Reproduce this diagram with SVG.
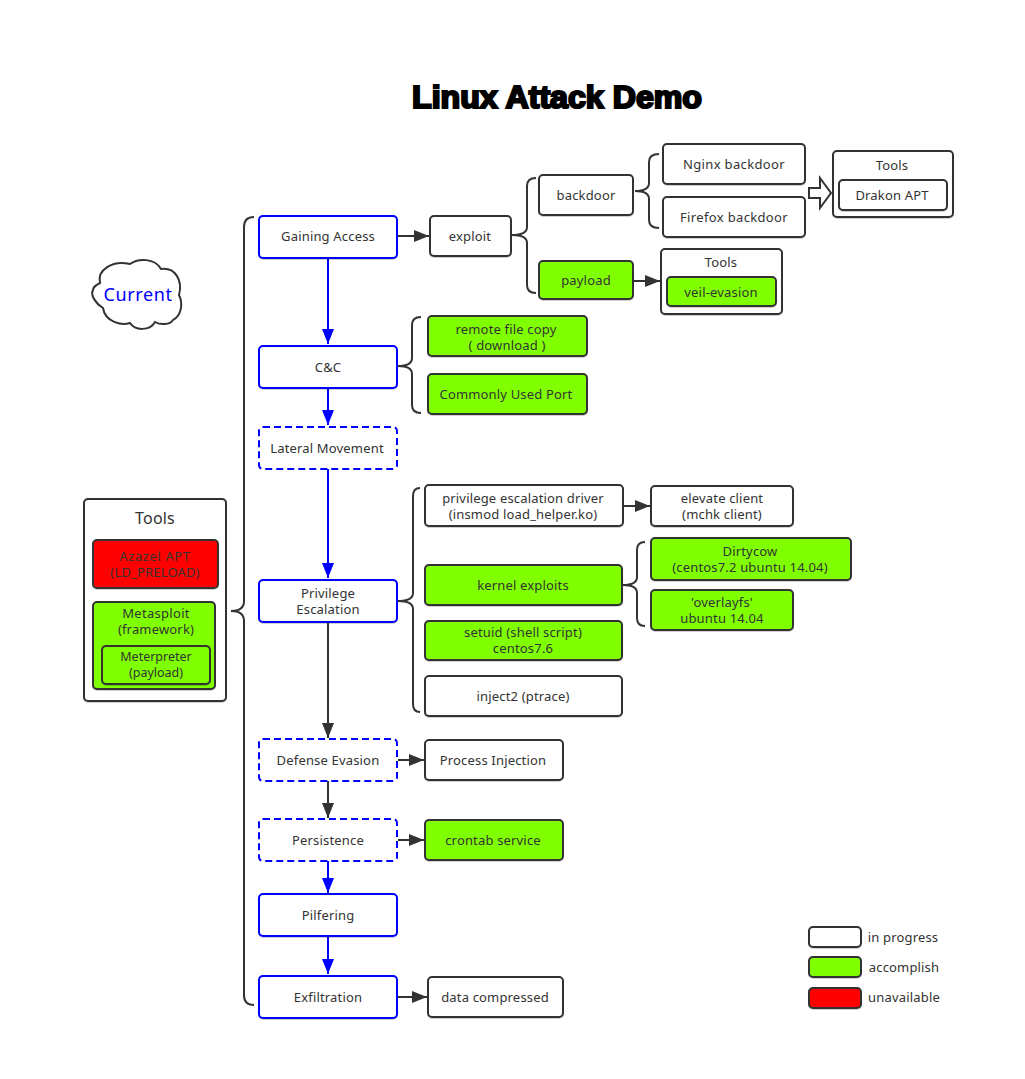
<svg xmlns="http://www.w3.org/2000/svg" width="1025" height="1079" viewBox="0 0 1025 1079">
<style>
text{font-family:"Noto Sans","Open Sans","Liberation Sans",sans-serif;font-size:13px;fill:#333;text-anchor:middle;letter-spacing:.17px}
.b{fill:#fff;stroke:#333;stroke-width:2;filter:url(#sh)}
.g{fill:#80ff00;stroke:#333;stroke-width:2;filter:url(#sh)}
.r{fill:#f00;stroke:#333;stroke-width:2;filter:url(#sh)}
.s{fill:#fff;stroke:#00f;stroke-width:2;filter:url(#sh)}
.d{fill:#fff;stroke:#00f;stroke-width:2;stroke-dasharray:7 4}
.lk{fill:none;stroke:#333;stroke-width:2}
.lb{fill:none;stroke:#00f;stroke-width:2}
.ak{marker-end:url(#ak)}
.ab{marker-end:url(#ab)}
</style>
<defs>
<filter id="sh" x="-5%" y="-10%" width="110%" height="125%"><feDropShadow dx="0" dy="1" stdDeviation=".6" flood-color="#000" flood-opacity=".18"/></filter>
<marker id="ak" markerUnits="userSpaceOnUse" markerWidth="16" markerHeight="12" refX="15" refY="6" orient="auto"><path d="M0 0L15 6L0 12Z" fill="#333"/></marker>
<marker id="ab" markerUnits="userSpaceOnUse" markerWidth="16" markerHeight="12" refX="15" refY="6" orient="auto"><path d="M0 0L15 6L0 12Z" fill="#00f"/></marker>
</defs>
<rect width="1025" height="1079" fill="#fff"/>
<text id="title" x="557" y="108" style="font-family:'Liberation Sans',sans-serif;font-size:31px;font-weight:bold;fill:#000;stroke:#000;stroke-width:2.2;letter-spacing:0" textLength="290" lengthAdjust="spacingAndGlyphs">Linux Attack Demo</text>

<g id="connectors">
<path class="lk" d="M254 217Q244 217 244 227L244 601Q244 611 231 611Q244 611 244 621L244 995Q244 1005 254 1005"/>
<path class="lk" d="M536 178Q527 178 527 186L527 227Q527 235 512 235Q527 235 527 243L527 285Q527 293 536 293"/>
<path class="lk" d="M659 154Q649 154 649 162L649 183Q649 191 635 191Q649 191 649 199L649 220Q649 228 659 228"/>
<path class="lk" d="M421 317Q412 317 412 325L412 358Q412 366 398 366Q412 366 412 374L412 405Q412 413 421 413"/>
<path class="lk" d="M420 488Q413 488 413 496L413 593Q413 601 398 601Q413 601 413 609L413 704Q413 712 420 712"/>
<path class="lk" d="M645 542Q637 542 637 550L637 577Q637 585 623 585Q637 585 637 593L637 618Q637 626 645 626"/>
<path class="lb ab" d="M328 258V344"/>
<path class="lb ab" d="M328 388V425"/>
<path class="lb ab" d="M328 469V578"/>
<path class="lk ak" d="M328 622V738"/>
<path class="lk ak" d="M328 781V818"/>
<path class="lb ab" d="M328 861V893"/>
<path class="lb ab" d="M328 936V974"/>
<path class="lk ak" d="M398 236H429"/>
<path class="lk ak" d="M634 281H660"/>
<path class="lk ak" d="M623 506H650"/>
<path class="lk ak" d="M398 760H424"/>
<path class="lk ak" d="M398 840H424"/>
<path class="lk ak" d="M398 997H427"/>
<path d="M809 188H820V178L831 193L820 208V198H809Z" fill="#fff" stroke="#333" stroke-width="2"/>
</g>

<g id="current"><path d="M100 283C97 270 112 260 130 264C138 258 155 258 161 269C175 267 183 280 179 295C183 303 182 315 173 320C170 325 160 325 155 322C150 331 135 331 130 323C122 326 105 322 103 308C96 304 90 295 93 290C93 287 96 285 100 283Z" fill="#fff" stroke="#333" stroke-width="2"/><text x="138" y="301" style="font-size:18px;fill:#00f;letter-spacing:.6px">Current</text></g>

<g id="tools-left"><rect class="b" x="84" y="499" width="142" height="202" rx="4"/><text x="155" y="524" style="font-size:16px">Tools</text></g>
<g id="azazel"><rect class="r" x="93" y="540" width="125" height="48" rx="4"/><text x="155" y="561" style="letter-spacing:.6px">Azazel APT</text><text x="155" y="577">(LD_PRELOAD)</text></g>
<g id="metasploit"><rect class="g" x="93" y="602" width="122" height="87" rx="4"/><text x="156" y="618" style="letter-spacing:.3px">Metasploit</text><text x="156" y="634">(framework)</text></g>
<g id="meterpreter"><rect class="g" x="102" y="646" width="108" height="38" rx="4"/><text x="156" y="661" style="font-size:12.5px;letter-spacing:0">Meterpreter</text><text x="156" y="677" style="font-size:12.5px;letter-spacing:0">(payload)</text></g>

<g id="gaining"><rect class="s" x="259" y="216" width="138" height="42" rx="4"/><text x="328" y="241">Gaining Access</text></g>
<g id="cc"><rect class="s" x="259" y="346" width="138" height="42" rx="4"/><text x="328" y="372">C&amp;C</text></g>
<g id="lateral"><rect class="d" x="259" y="427" width="138" height="42" rx="4"/><text x="327" y="453">Lateral Movement</text></g>
<g id="privesc"><rect class="s" x="259" y="580" width="138" height="42" rx="4"/><text x="328" y="598">Privilege</text><text x="328" y="614">Escalation</text></g>
<g id="defense"><rect class="d" x="259" y="739" width="138" height="42" rx="4"/><text x="328" y="765">Defense Evasion</text></g>
<g id="persistence"><rect class="d" x="259" y="819" width="138" height="42" rx="4"/><text x="328" y="845">Persistence</text></g>
<g id="pilfering"><rect class="s" x="259" y="894" width="138" height="42" rx="4"/><text x="328" y="920">Pilfering</text></g>
<g id="exfil"><rect class="s" x="259" y="976" width="138" height="42" rx="4"/><text x="328" y="1002">Exfiltration</text></g>

<g id="exploit"><rect class="b" x="430" y="216" width="81" height="40" rx="4"/><text x="470" y="241">exploit</text></g>
<g id="backdoor"><rect class="b" x="539" y="175" width="94" height="40" rx="4"/><text x="586" y="200">backdoor</text></g>
<g id="payload"><rect class="g" x="539" y="261" width="94" height="38" rx="4"/><text x="586" y="285">payload</text></g>
<g id="nginx"><rect class="b" x="663" y="144" width="142" height="40" rx="4"/><text x="734" y="169" style="letter-spacing:.35px">Nginx backdoor</text></g>
<g id="firefox"><rect class="b" x="663" y="197" width="142" height="40" rx="4"/><text x="734" y="222" style="letter-spacing:.35px">Firefox backdoor</text></g>
<g id="tools-top"><rect class="b" x="833" y="151" width="120" height="66" rx="4"/><text x="892" y="170">Tools</text></g>
<g id="drakon"><rect class="b" x="839" y="180" width="108" height="30" rx="4"/><text x="892" y="200">Drakon APT</text></g>
<g id="tools-payload"><rect class="b" x="661" y="249" width="121" height="65" rx="4"/><text x="721" y="267">Tools</text></g>
<g id="veil"><rect class="g" x="667" y="277" width="109" height="29" rx="4"/><text x="721" y="297">veil-evasion</text></g>

<g id="remote"><rect class="g" x="428" y="316" width="159" height="40" rx="4"/><text x="506" y="334">remote file copy</text><text x="507" y="350">( download )</text></g>
<g id="port"><rect class="g" x="428" y="374" width="159" height="40" rx="4"/><text x="506" y="399">Commonly Used Port</text></g>

<g id="driver"><rect class="b" x="425" y="485" width="198" height="41" rx="4"/><text x="523" y="503">privilege escalation driver</text><text x="523" y="519">(insmod load_helper.ko)</text></g>
<g id="elevate"><rect class="b" x="651" y="486" width="142" height="40" rx="4"/><text x="722" y="503">elevate client</text><text x="722" y="519">(mchk client)</text></g>
<g id="kernel"><rect class="g" x="425" y="565" width="197" height="40" rx="4"/><text x="523" y="590">kernel exploits</text></g>
<g id="dirtycow"><rect class="g" x="651" y="538" width="200" height="42" rx="4"/><text x="750" y="556">Dirtycow</text><text x="750" y="572">(centos7.2 ubuntu 14.04)</text></g>
<g id="overlayfs"><rect class="g" x="651" y="590" width="142" height="40" rx="4"/><text x="722" y="607">'overlayfs'</text><text x="722" y="623">ubuntu 14.04</text></g>
<g id="setuid"><rect class="g" x="425" y="621" width="197" height="39" rx="4"/><text x="523" y="637">setuid (shell script)</text><text x="523" y="653">centos7.6</text></g>
<g id="inject"><rect class="b" x="425" y="676" width="197" height="40" rx="4"/><text x="523" y="701">inject2 (ptrace)</text></g>

<g id="process"><rect class="b" x="425" y="740" width="138" height="40" rx="4"/><text x="493" y="765">Process Injection</text></g>
<g id="crontab"><rect class="g" x="425" y="820" width="138" height="40" rx="4"/><text x="493" y="845">crontab service</text></g>
<g id="data"><rect class="b" x="428" y="977" width="135" height="40" rx="4"/><text x="495" y="1002">data compressed</text></g>

<g id="legend-progress"><rect class="b" x="809" y="927" width="52" height="20" rx="4"/><text x="903" y="942">in progress</text></g>
<g id="legend-accomplish"><rect class="g" x="809" y="957" width="52" height="20" rx="4"/><text x="904" y="972">accomplish</text></g>
<g id="legend-unavailable"><rect class="r" x="809" y="988" width="52" height="20" rx="4"/><text x="904" y="1002">unavailable</text></g>
</svg>
